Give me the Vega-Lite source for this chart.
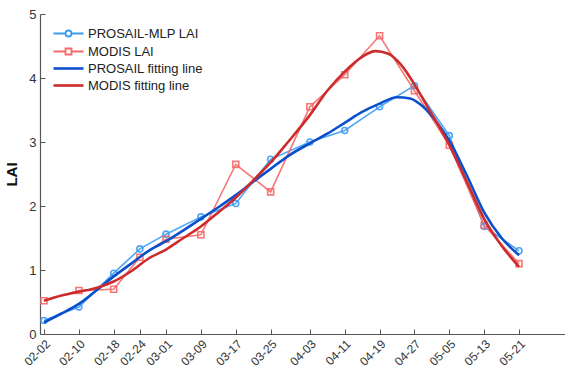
{
  "$schema": "https://vega.github.io/schema/vega-lite/v6.json",
  "width": 525,
  "height": 320,
  "autosize": "none",
  "padding": {"left": 40, "top": 14, "right": 0, "bottom": 48},
  "config": {
    "view": {"stroke": null},
    "font": "Liberation Sans",
    "axis": {"grid": false, "domainColor": "#555", "tickColor": "#555", "labelColor": "#333", "labelFont": "Liberation Sans", "labelFontSize": 12, "tickSize": -5, "domainWidth": 1.2}
  },
  "datasets": {
    "raw": [
      {"d": "2020-02-02T00:00:00", "v": 0.21, "s": "PROSAIL-MLP LAI"},
      {"d": "2020-02-10T00:00:00", "v": 0.42, "s": "PROSAIL-MLP LAI"},
      {"d": "2020-02-18T00:00:00", "v": 0.95, "s": "PROSAIL-MLP LAI"},
      {"d": "2020-02-24T00:00:00", "v": 1.33, "s": "PROSAIL-MLP LAI"},
      {"d": "2020-03-01T00:00:00", "v": 1.56, "s": "PROSAIL-MLP LAI"},
      {"d": "2020-03-09T00:00:00", "v": 1.83, "s": "PROSAIL-MLP LAI"},
      {"d": "2020-03-17T00:00:00", "v": 2.04, "s": "PROSAIL-MLP LAI"},
      {"d": "2020-03-25T00:00:00", "v": 2.73, "s": "PROSAIL-MLP LAI"},
      {"d": "2020-04-03T00:00:00", "v": 3.0, "s": "PROSAIL-MLP LAI"},
      {"d": "2020-04-11T00:00:00", "v": 3.18, "s": "PROSAIL-MLP LAI"},
      {"d": "2020-04-19T00:00:00", "v": 3.55, "s": "PROSAIL-MLP LAI"},
      {"d": "2020-04-27T00:00:00", "v": 3.88, "s": "PROSAIL-MLP LAI"},
      {"d": "2020-05-05T00:00:00", "v": 3.1, "s": "PROSAIL-MLP LAI"},
      {"d": "2020-05-13T00:00:00", "v": 1.68, "s": "PROSAIL-MLP LAI"},
      {"d": "2020-05-21T00:00:00", "v": 1.3, "s": "PROSAIL-MLP LAI"},
      {"d": "2020-02-02T00:00:00", "v": 0.52, "s": "MODIS LAI"},
      {"d": "2020-02-10T00:00:00", "v": 0.68, "s": "MODIS LAI"},
      {"d": "2020-02-18T00:00:00", "v": 0.7, "s": "MODIS LAI"},
      {"d": "2020-02-24T00:00:00", "v": 1.2, "s": "MODIS LAI"},
      {"d": "2020-03-01T00:00:00", "v": 1.48, "s": "MODIS LAI"},
      {"d": "2020-03-09T00:00:00", "v": 1.55, "s": "MODIS LAI"},
      {"d": "2020-03-17T00:00:00", "v": 2.65, "s": "MODIS LAI"},
      {"d": "2020-03-25T00:00:00", "v": 2.22, "s": "MODIS LAI"},
      {"d": "2020-04-03T00:00:00", "v": 3.55, "s": "MODIS LAI"},
      {"d": "2020-04-11T00:00:00", "v": 4.05, "s": "MODIS LAI"},
      {"d": "2020-04-19T00:00:00", "v": 4.66, "s": "MODIS LAI"},
      {"d": "2020-04-27T00:00:00", "v": 3.8, "s": "MODIS LAI"},
      {"d": "2020-05-05T00:00:00", "v": 2.95, "s": "MODIS LAI"},
      {"d": "2020-05-13T00:00:00", "v": 1.7, "s": "MODIS LAI"},
      {"d": "2020-05-21T00:00:00", "v": 1.1, "s": "MODIS LAI"}
    ],
    "fit": [
      {"d": "2020-02-02T00:00:00", "v": 0.18, "s": "PROSAIL fitting line"},
      {"d": "2020-02-06T00:00:00", "v": 0.32, "s": "PROSAIL fitting line"},
      {"d": "2020-02-10T00:00:00", "v": 0.47, "s": "PROSAIL fitting line"},
      {"d": "2020-02-14T00:00:00", "v": 0.68, "s": "PROSAIL fitting line"},
      {"d": "2020-02-18T00:00:00", "v": 0.9, "s": "PROSAIL fitting line"},
      {"d": "2020-02-22T00:00:00", "v": 1.1, "s": "PROSAIL fitting line"},
      {"d": "2020-02-26T00:00:00", "v": 1.3, "s": "PROSAIL fitting line"},
      {"d": "2020-03-01T00:00:00", "v": 1.45, "s": "PROSAIL fitting line"},
      {"d": "2020-03-05T00:00:00", "v": 1.62, "s": "PROSAIL fitting line"},
      {"d": "2020-03-09T00:00:00", "v": 1.8, "s": "PROSAIL fitting line"},
      {"d": "2020-03-13T00:00:00", "v": 1.98, "s": "PROSAIL fitting line"},
      {"d": "2020-03-17T00:00:00", "v": 2.17, "s": "PROSAIL fitting line"},
      {"d": "2020-03-21T00:00:00", "v": 2.38, "s": "PROSAIL fitting line"},
      {"d": "2020-03-25T00:00:00", "v": 2.58, "s": "PROSAIL fitting line"},
      {"d": "2020-03-29T00:00:00", "v": 2.78, "s": "PROSAIL fitting line"},
      {"d": "2020-04-03T00:00:00", "v": 2.98, "s": "PROSAIL fitting line"},
      {"d": "2020-04-07T00:00:00", "v": 3.13, "s": "PROSAIL fitting line"},
      {"d": "2020-04-11T00:00:00", "v": 3.3, "s": "PROSAIL fitting line"},
      {"d": "2020-04-15T00:00:00", "v": 3.47, "s": "PROSAIL fitting line"},
      {"d": "2020-04-19T00:00:00", "v": 3.6, "s": "PROSAIL fitting line"},
      {"d": "2020-04-23T00:00:00", "v": 3.7, "s": "PROSAIL fitting line"},
      {"d": "2020-04-26T00:00:00", "v": 3.68, "s": "PROSAIL fitting line"},
      {"d": "2020-04-29T00:00:00", "v": 3.55, "s": "PROSAIL fitting line"},
      {"d": "2020-05-02T00:00:00", "v": 3.32, "s": "PROSAIL fitting line"},
      {"d": "2020-05-05T00:00:00", "v": 3.02, "s": "PROSAIL fitting line"},
      {"d": "2020-05-09T00:00:00", "v": 2.48, "s": "PROSAIL fitting line"},
      {"d": "2020-05-13T00:00:00", "v": 1.9, "s": "PROSAIL fitting line"},
      {"d": "2020-05-17T00:00:00", "v": 1.5, "s": "PROSAIL fitting line"},
      {"d": "2020-05-21T00:00:00", "v": 1.23, "s": "PROSAIL fitting line"},
      {"d": "2020-02-02T00:00:00", "v": 0.52, "s": "MODIS fitting line"},
      {"d": "2020-02-06T00:00:00", "v": 0.6, "s": "MODIS fitting line"},
      {"d": "2020-02-10T00:00:00", "v": 0.66, "s": "MODIS fitting line"},
      {"d": "2020-02-14T00:00:00", "v": 0.72, "s": "MODIS fitting line"},
      {"d": "2020-02-18T00:00:00", "v": 0.82, "s": "MODIS fitting line"},
      {"d": "2020-02-22T00:00:00", "v": 0.98, "s": "MODIS fitting line"},
      {"d": "2020-02-26T00:00:00", "v": 1.18, "s": "MODIS fitting line"},
      {"d": "2020-03-01T00:00:00", "v": 1.32, "s": "MODIS fitting line"},
      {"d": "2020-03-05T00:00:00", "v": 1.5, "s": "MODIS fitting line"},
      {"d": "2020-03-09T00:00:00", "v": 1.68, "s": "MODIS fitting line"},
      {"d": "2020-03-13T00:00:00", "v": 1.9, "s": "MODIS fitting line"},
      {"d": "2020-03-17T00:00:00", "v": 2.13, "s": "MODIS fitting line"},
      {"d": "2020-03-21T00:00:00", "v": 2.4, "s": "MODIS fitting line"},
      {"d": "2020-03-25T00:00:00", "v": 2.68, "s": "MODIS fitting line"},
      {"d": "2020-03-29T00:00:00", "v": 3.0, "s": "MODIS fitting line"},
      {"d": "2020-04-03T00:00:00", "v": 3.42, "s": "MODIS fitting line"},
      {"d": "2020-04-07T00:00:00", "v": 3.8, "s": "MODIS fitting line"},
      {"d": "2020-04-11T00:00:00", "v": 4.1, "s": "MODIS fitting line"},
      {"d": "2020-04-15T00:00:00", "v": 4.33, "s": "MODIS fitting line"},
      {"d": "2020-04-18T00:00:00", "v": 4.42, "s": "MODIS fitting line"},
      {"d": "2020-04-21T00:00:00", "v": 4.38, "s": "MODIS fitting line"},
      {"d": "2020-04-24T00:00:00", "v": 4.2, "s": "MODIS fitting line"},
      {"d": "2020-04-27T00:00:00", "v": 3.9, "s": "MODIS fitting line"},
      {"d": "2020-04-30T00:00:00", "v": 3.55, "s": "MODIS fitting line"},
      {"d": "2020-05-03T00:00:00", "v": 3.2, "s": "MODIS fitting line"},
      {"d": "2020-05-05T00:00:00", "v": 2.95, "s": "MODIS fitting line"},
      {"d": "2020-05-09T00:00:00", "v": 2.38, "s": "MODIS fitting line"},
      {"d": "2020-05-13T00:00:00", "v": 1.8, "s": "MODIS fitting line"},
      {"d": "2020-05-17T00:00:00", "v": 1.38, "s": "MODIS fitting line"},
      {"d": "2020-05-21T00:00:00", "v": 1.05, "s": "MODIS fitting line"}
    ]
  },
  "encoding": {
    "x": {
      "field": "d", "type": "temporal",
      "scale": {"domain": ["2020-02-01T02:00:00", "2020-05-31T13:00:00"]},
      "axis": {
        "title": null, "format": "%m-%d", "labelAngle": -45, "labelPadding": 9, "labelAlign": "right", "labelBaseline": "top", "labelOverlap": false, "labelBound": false,
        "values": [
          {"year": 2020, "month": 2, "date": 2}, {"year": 2020, "month": 2, "date": 10}, {"year": 2020, "month": 2, "date": 18},
          {"year": 2020, "month": 2, "date": 24}, {"year": 2020, "month": 3, "date": 1}, {"year": 2020, "month": 3, "date": 9},
          {"year": 2020, "month": 3, "date": 17}, {"year": 2020, "month": 3, "date": 25}, {"year": 2020, "month": 4, "date": 3},
          {"year": 2020, "month": 4, "date": 11}, {"year": 2020, "month": 4, "date": 19}, {"year": 2020, "month": 4, "date": 27},
          {"year": 2020, "month": 5, "date": 5}, {"year": 2020, "month": 5, "date": 13}, {"year": 2020, "month": 5, "date": 21}
        ]
      }
    },
    "y": {
      "field": "v", "type": "quantitative",
      "scale": {"domain": [0, 5], "nice": false},
      "axis": {"title": "LAI", "titleFontSize": 15, "titleFontWeight": "bold", "titleColor": "#111", "titlePadding": 9, "values": [0, 1, 2, 3, 4, 5], "labelPadding": 9, "labelFontSize": 13}
    },
    "color": {
      "field": "s", "type": "nominal",
      "scale": {
        "domain": ["PROSAIL-MLP LAI", "MODIS LAI", "PROSAIL fitting line", "MODIS fitting line"],
        "range": ["#3b9cf5", "#f76868", "#0a50cc", "#cc2c2c"]
      },
      "legend": {
        "title": null, "orient": "none", "legendX": 22, "legendY": 13,
        "symbolSize": 900, "labelFontSize": 13, "labelFont": "Liberation Sans", "labelColor": "#222", "labelOffset": 13, "rowPadding": 3,
        "encode": {
          "symbols": {
            "update": {
              "shape": {"signal": "datum.value === 'PROSAIL-MLP LAI' ? 'M-1,0H-0.2M0.2,0H1M0.2,0A0.2,0.2 0 1 1 -0.2,0A0.2,0.2 0 1 1 0.2,0' : datum.value === 'MODIS LAI' ? 'M-1,0H-0.2M0.2,0H1M-0.2,-0.2H0.2V0.2H-0.2Z' : 'M-1,0H1'"},
              "strokeWidth": {"signal": "indexof(['PROSAIL-MLP LAI','MODIS LAI'], datum.value) >= 0 ? 1.8 : 2.6"},
              "fill": {"value": "transparent"},
              "opacity": {"value": 1}
            }
          }
        }
      }
    }
  },
  "layer": [
    {"data": {"name": "raw"}, "mark": {"type": "line", "strokeWidth": 1.6, "opacity": 0.9}},
    {"data": {"name": "raw"}, "mark": {"type": "point", "filled": false, "size": 36, "strokeWidth": 1.6, "opacity": 0.9},
     "encoding": {"shape": {"field": "s", "type": "nominal", "scale": {"domain": ["PROSAIL-MLP LAI", "MODIS LAI"], "range": ["circle", "square"]}, "legend": null}}},
    {"data": {"name": "fit"}, "mark": {"type": "line", "strokeWidth": 2.6, "interpolate": "monotone"}}
  ]
}
